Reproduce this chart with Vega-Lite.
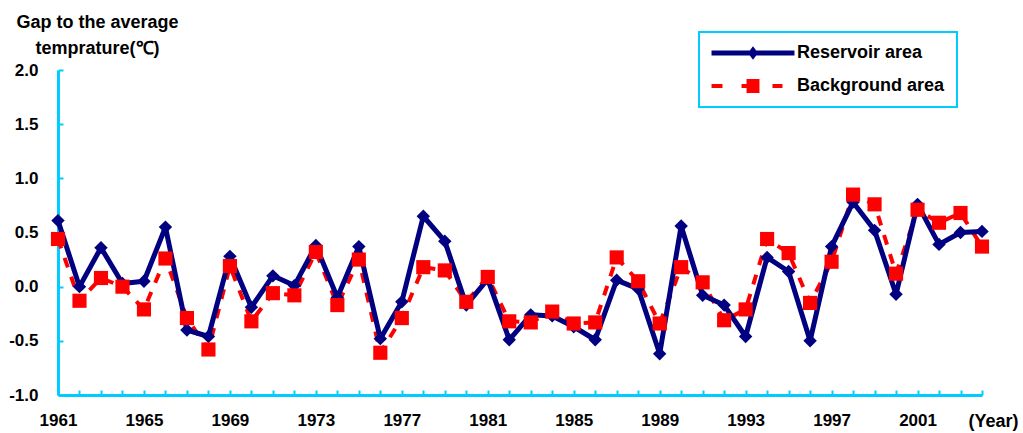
{
  "$schema": "https://vega.github.io/schema/vega-lite/v6.json",
  "autosize": "none",
  "width": 924,
  "height": 325,
  "padding": {"left": 58, "top": 70, "right": 41, "bottom": 38},
  "background": "white",
  "config": {
    "view": {"stroke": null},
    "font": "Liberation Sans",
    "axis": {
      "grid": false,
      "domainColor": "#00CCFF",
      "domainWidth": 3,
      "tickColor": "#00CCFF",
      "tickWidth": 2,
      "labelFont": "Liberation Sans",
      "labelFontSize": 17,
      "labelFontWeight": "bold",
      "labelColor": "black",
      "titleFont": "Liberation Sans",
      "titleFontWeight": "bold",
      "titleColor": "black"
    }
  },
  "data": {
    "values": [
      {"year": 1961, "series": "Reservoir area", "value": 0.61},
      {"year": 1962, "series": "Reservoir area", "value": 0.0},
      {"year": 1963, "series": "Reservoir area", "value": 0.36},
      {"year": 1964, "series": "Reservoir area", "value": 0.03},
      {"year": 1965, "series": "Reservoir area", "value": 0.05},
      {"year": 1966, "series": "Reservoir area", "value": 0.55},
      {"year": 1967, "series": "Reservoir area", "value": -0.40},
      {"year": 1968, "series": "Reservoir area", "value": -0.46},
      {"year": 1969, "series": "Reservoir area", "value": 0.28},
      {"year": 1970, "series": "Reservoir area", "value": -0.19},
      {"year": 1971, "series": "Reservoir area", "value": 0.10},
      {"year": 1972, "series": "Reservoir area", "value": 0.01},
      {"year": 1973, "series": "Reservoir area", "value": 0.38},
      {"year": 1974, "series": "Reservoir area", "value": -0.10},
      {"year": 1975, "series": "Reservoir area", "value": 0.37},
      {"year": 1976, "series": "Reservoir area", "value": -0.48},
      {"year": 1977, "series": "Reservoir area", "value": -0.14},
      {"year": 1978, "series": "Reservoir area", "value": 0.65},
      {"year": 1979, "series": "Reservoir area", "value": 0.42},
      {"year": 1980, "series": "Reservoir area", "value": -0.17},
      {"year": 1981, "series": "Reservoir area", "value": 0.07},
      {"year": 1982, "series": "Reservoir area", "value": -0.49},
      {"year": 1983, "series": "Reservoir area", "value": -0.26},
      {"year": 1984, "series": "Reservoir area", "value": -0.27},
      {"year": 1985, "series": "Reservoir area", "value": -0.37},
      {"year": 1986, "series": "Reservoir area", "value": -0.49},
      {"year": 1987, "series": "Reservoir area", "value": 0.06},
      {"year": 1988, "series": "Reservoir area", "value": -0.02},
      {"year": 1989, "series": "Reservoir area", "value": -0.62},
      {"year": 1990, "series": "Reservoir area", "value": 0.56},
      {"year": 1991, "series": "Reservoir area", "value": -0.08},
      {"year": 1992, "series": "Reservoir area", "value": -0.17},
      {"year": 1993, "series": "Reservoir area", "value": -0.46},
      {"year": 1994, "series": "Reservoir area", "value": 0.27},
      {"year": 1995, "series": "Reservoir area", "value": 0.14},
      {"year": 1996, "series": "Reservoir area", "value": -0.50},
      {"year": 1997, "series": "Reservoir area", "value": 0.37},
      {"year": 1998, "series": "Reservoir area", "value": 0.78},
      {"year": 1999, "series": "Reservoir area", "value": 0.52},
      {"year": 2000, "series": "Reservoir area", "value": -0.07},
      {"year": 2001, "series": "Reservoir area", "value": 0.76},
      {"year": 2002, "series": "Reservoir area", "value": 0.39},
      {"year": 2003, "series": "Reservoir area", "value": 0.50},
      {"year": 2004, "series": "Reservoir area", "value": 0.51},
      {"year": 1961, "series": "Background area", "value": 0.44},
      {"year": 1962, "series": "Background area", "value": -0.13},
      {"year": 1963, "series": "Background area", "value": 0.08},
      {"year": 1964, "series": "Background area", "value": 0.0},
      {"year": 1965, "series": "Background area", "value": -0.21},
      {"year": 1966, "series": "Background area", "value": 0.26},
      {"year": 1967, "series": "Background area", "value": -0.29},
      {"year": 1968, "series": "Background area", "value": -0.58},
      {"year": 1969, "series": "Background area", "value": 0.19},
      {"year": 1970, "series": "Background area", "value": -0.32},
      {"year": 1971, "series": "Background area", "value": -0.06},
      {"year": 1972, "series": "Background area", "value": -0.08},
      {"year": 1973, "series": "Background area", "value": 0.32},
      {"year": 1974, "series": "Background area", "value": -0.17},
      {"year": 1975, "series": "Background area", "value": 0.25},
      {"year": 1976, "series": "Background area", "value": -0.61},
      {"year": 1977, "series": "Background area", "value": -0.29},
      {"year": 1978, "series": "Background area", "value": 0.18},
      {"year": 1979, "series": "Background area", "value": 0.15},
      {"year": 1980, "series": "Background area", "value": -0.14},
      {"year": 1981, "series": "Background area", "value": 0.09},
      {"year": 1982, "series": "Background area", "value": -0.32},
      {"year": 1983, "series": "Background area", "value": -0.33},
      {"year": 1984, "series": "Background area", "value": -0.23},
      {"year": 1985, "series": "Background area", "value": -0.34},
      {"year": 1986, "series": "Background area", "value": -0.33},
      {"year": 1987, "series": "Background area", "value": 0.27},
      {"year": 1988, "series": "Background area", "value": 0.05},
      {"year": 1989, "series": "Background area", "value": -0.34},
      {"year": 1990, "series": "Background area", "value": 0.18},
      {"year": 1991, "series": "Background area", "value": 0.04},
      {"year": 1992, "series": "Background area", "value": -0.31},
      {"year": 1993, "series": "Background area", "value": -0.21},
      {"year": 1994, "series": "Background area", "value": 0.44},
      {"year": 1995, "series": "Background area", "value": 0.31},
      {"year": 1996, "series": "Background area", "value": -0.15},
      {"year": 1997, "series": "Background area", "value": 0.23},
      {"year": 1998, "series": "Background area", "value": 0.85},
      {"year": 1999, "series": "Background area", "value": 0.76},
      {"year": 2000, "series": "Background area", "value": 0.12},
      {"year": 2001, "series": "Background area", "value": 0.71},
      {"year": 2002, "series": "Background area", "value": 0.59},
      {"year": 2003, "series": "Background area", "value": 0.68},
      {"year": 2004, "series": "Background area", "value": 0.37}
    ]
  },
  "encoding": {
    "x": {
      "field": "year",
      "type": "quantitative",
      "scale": {"domain": [1961, 2004], "nice": false, "zero": false},
      "axis": {
        "values": [1961,1962,1963,1964,1965,1966,1967,1968,1969,1970,1971,1972,1973,1974,1975,1976,1977,1978,1979,1980,1981,1982,1983,1984,1985,1986,1987,1988,1989,1990,1991,1992,1993,1994,1995,1996,1997,1998,1999,2000,2001,2002,2003,2004],
        "labelExpr": "(datum.value - 1961) % 4 === 0 ? format(datum.value, 'd') : ''",
        "tickSize": -5,
        "labelPadding": 22,
        "labelFlush": false,
        "labelOverlap": false,
        "title": "(Year)",
        "titleFontSize": 18,
        "titleAlign": "center",
        "titleBaseline": "alphabetic",
        "titleX": 935,
        "titleY": 31
      }
    },
    "y": {
      "field": "value",
      "type": "quantitative",
      "scale": {"domain": [-1, 2], "nice": false, "zero": false},
      "axis": {
        "values": [-1, -0.5, 0, 0.5, 1, 1.5, 2],
        "labelExpr": "replace(format(datum.value, '.1f'), '\u2212', '-')",
        "tickSize": -5,
        "labelPadding": 25,
        "labelOverlap": false,
        "title": ["Gap to the average", "temprature(\u2103)"],
        "titleFontSize": 18,
        "titleAngle": 0,
        "titleAlign": "center",
        "titleBaseline": "alphabetic",
        "titleLineHeight": 26,
        "titleX": 39,
        "titleY": -43
      }
    },
    "color": {
      "field": "series",
      "type": "nominal",
      "scale": {"domain": ["Reservoir area", "Background area"], "range": ["#000080", "#FF0000"]},
      "legend": {
        "orient": "none",
        "legendX": 641,
        "legendY": -38,
        "title": null,
        "padding": 12,
        "rowPadding": 15,
        "symbolSize": 289,
        "symbolStrokeWidth": 0,
        "symbolOffset": 33,
        "labelOffset": 35,
        "labelFont": "Liberation Sans",
        "labelFontSize": 18,
        "labelFontWeight": "bold",
        "labelColor": "black",
        "strokeColor": "#00CCFF",
        "fillColor": "white",
        "encode": {
          "legend": {"update": {"strokeWidth": {"value": 2}}},
          "symbols": {
            "update": {
              "shape": {"signal": "datum.value === 'Reservoir area' ? 'M-4.88,-0.29L4.88,-0.29L4.88,0.29L-4.88,0.29Z M-0.6,0L0,-0.8L0.6,0L0,0.8Z' : 'M-4.88,-0.24L-3.59,-0.24L-3.59,0.24L-4.88,0.24Z M-1.35,-0.24L-0.76,-0.24L-0.76,0.24L-1.35,0.24Z M-0.76,-0.82L0.76,-0.82L0.76,0.82L-0.76,0.82Z M2.29,-0.24L3.47,-0.24L3.47,0.24L2.29,0.24Z'"},
              "fill": {"signal": "datum.value === 'Reservoir area' ? '#000080' : '#FF0000'"},
              "fillOpacity": {"value": 1},
              "opacity": {"value": 1},
              "strokeWidth": {"value": 0}
            }
          }
        }
      }
    }
  },
  "layer": [
    {
      "transform": [{"filter": "datum.series === 'Background area'"}],
      "mark": {"type": "line", "strokeWidth": 4, "strokeDash": [10, 10]}
    },
    {
      "transform": [{"filter": "datum.series === 'Reservoir area'"}],
      "mark": {"type": "line", "strokeWidth": 5, "strokeJoin": "round"}
    },
    {
      "transform": [{"filter": "datum.series === 'Reservoir area'"}],
      "mark": {"type": "point", "shape": "diamond", "filled": true, "size": 180, "opacity": 1, "strokeWidth": 0}
    },
    {
      "transform": [{"filter": "datum.series === 'Background area'"}],
      "mark": {"type": "point", "shape": "square", "filled": true, "size": 200, "opacity": 1, "strokeWidth": 0}
    }
  ]
}
